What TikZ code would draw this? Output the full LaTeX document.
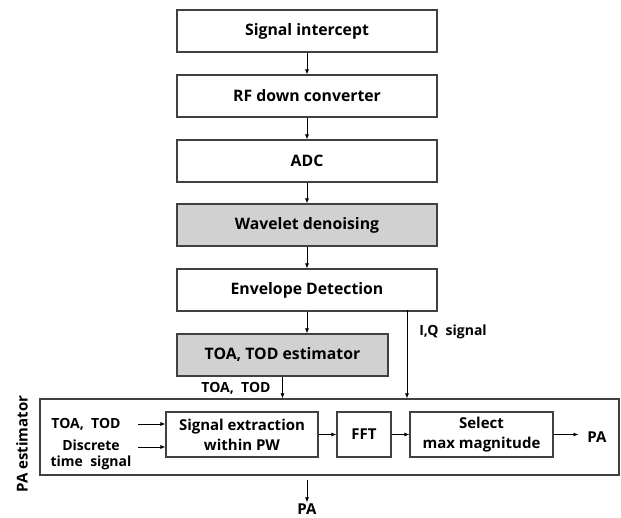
\documentclass[tikz,border=0pt]{standalone}
\usepackage{fontspec}
\setmainfont{Open Sans}
\usetikzlibrary{arrows.meta}

\begin{document}
\begin{tikzpicture}[
        x=1pt, y=-1pt,
        >={Latex[length=5pt,width=4pt]},
        blk/.style={draw=black!75, line width=1.1pt, fill=white, minimum width=260pt, minimum height=42pt, font=\bfseries\fontsize{15.8}{17}\selectfont},
        shaded/.style={blk, fill=black!18},
        inner/.style={draw=black!75, line width=1.1pt, fill=white, minimum height=45pt, align=center, inner sep=1pt, font=\bfseries\fontsize{15}{20}\selectfont},
        lbl/.style={font=\bfseries\fontsize{14}{15.5}\selectfont, align=center, inner sep=1pt},
        flow/.style={->, line width=0.8pt},
      ]

      \useasboundingbox (0,0) rectangle (621,518);

      % main chain
      \node[blk] (sig) at (307,31) {Signal intercept};
      \node[blk] (rf) at (307,96) {RF down converter};
      \node[blk] (adc) at (307,161) {ADC};
      \node[shaded] (wav) at (307,225) {Wavelet denoising};
      \node[blk] (env) at (307,290) {Envelope Detection};
      \node[shaded, minimum width=211pt] (toa) at (282.5,355) {TOA, TOD estimator};

      % PA estimator block
      \node[draw=black!75, line width=1.1pt, minimum width=579pt, minimum height=76pt] (pa) at (329.5,437) {};
      \node[inner, minimum width=152pt] (ext) at (242,434.5) {Signal extraction\\within PW};
      \node[inner, minimum width=54pt] (fft) at (364,434.5) {FFT};
      \node[inner, minimum width=143pt] (sel) at (481.5,434.5) {Select\\max magnitude};
      \node[lbl, rotate=90, font=\bfseries\fontsize{15}{16}\selectfont] (patitle) at (22,444) {PA estimator};

      \node[lbl] (intoa) at (86,424) {TOA,~ TOD};
      \node[lbl] (indisc) at (91,455) {Discrete\\time~ signal};
      \node[lbl] (totoa) at (236,388) {TOA,~ TOD};
      \node[lbl] (iqlbl) at (453,332) {I,Q~ signal};
      \node[lbl, font=\bfseries\fontsize{15}{16}\selectfont] (paout) at (597,437) {PA};
      \node[lbl, font=\bfseries\fontsize{15}{16}\selectfont] (pabot) at (307,509) {PA};

      \coordinate (iq) at (407,310);
      \coordinate (intoaend) at (138,424);
      \coordinate (indiscend) at (138,447);
      \coordinate (botstart) at (307,480);

      % connectors
      \draw[flow] (sig) -- (rf);
      \draw[flow] (rf) -- (adc);
      \draw[flow] (adc) -- (wav);
      \draw[flow] (wav) -- (env);
      \draw[flow] (env.south) -- (env.south |- toa.north);
      \draw[flow] (toa.south) -- (toa.south |- pa.north);
      \draw[flow] (iq) -- (iq |- pa.north);
      \draw[flow] (intoaend) -- (intoaend -| ext.west);
      \draw[flow] (indiscend) -- (indiscend -| ext.west);
      \draw[flow] (ext) -- (fft);
      \draw[flow] (fft) -- (sel);
      \draw[flow] (sel.east) -- ++(25,0);
      \draw[flow] (botstart) -- (pabot.north);

    \end{tikzpicture}
\end{document}
